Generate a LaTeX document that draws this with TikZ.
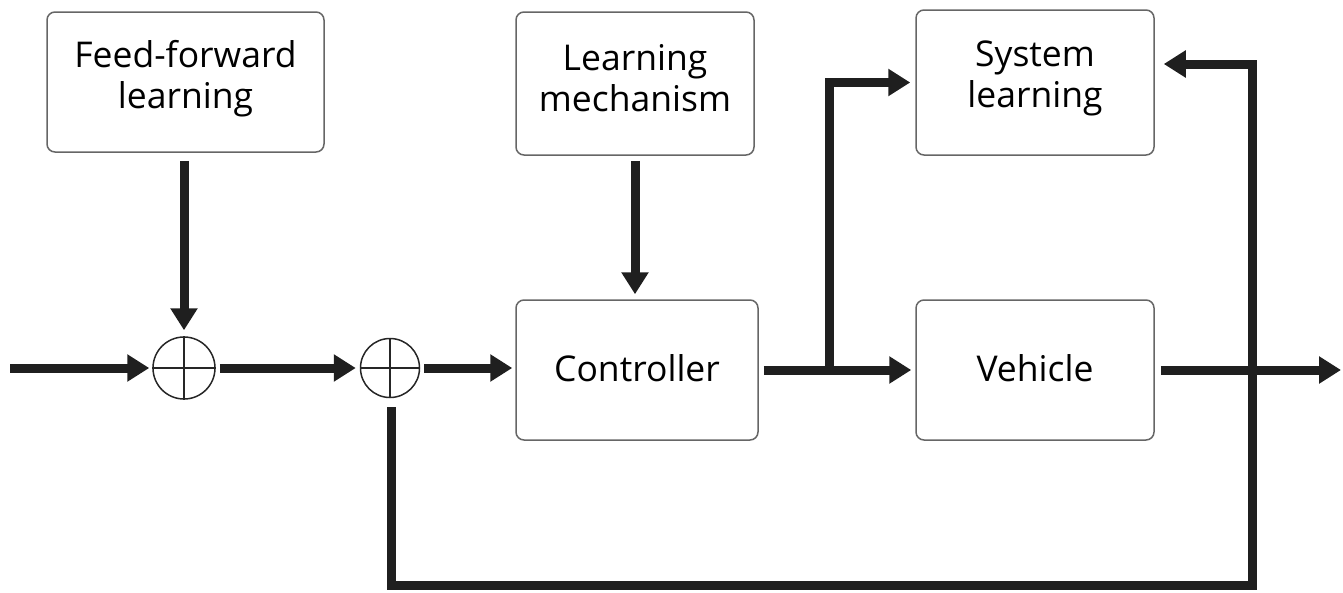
\documentclass[tikz,border=0pt]{standalone}
\usepackage{fontspec}
\setmainfont{Open Sans}
\usetikzlibrary{arrows.meta}
\begin{document}
\begin{tikzpicture}[x=1pt,y=-1pt,
  blk/.style={draw=black!60, line width=1.5pt, rounded corners=8pt, inner sep=0pt},
  txt/.style={align=center, font=\fontsize{35.5}{41}\selectfont, inner sep=0pt},
  sumnode/.style={draw=black!85, circle, line width=1.5pt, minimum size=62pt, inner sep=0pt},
  flow/.style={line width=9pt, draw=black!88, -{Triangle[length=22pt,width=26pt]}}]
\useasboundingbox (0,0) rectangle (1343,592);
\node[blk, minimum width=277pt, minimum height=140pt] (ff) at (185.5,82) {};
\node[txt] at (185.5,79) {Feed-forward\\learning};
\node[blk, minimum width=238pt, minimum height=143pt] (lm) at (635,83.5) {};
\node[txt] at (635,78) {Learning\\mechanism};
\node[blk, minimum width=238pt, minimum height=145pt] (sl) at (1035,82.5) {};
\node[txt] at (1035,78) {System\\learning};
\node[blk, minimum width=242pt, minimum height=140pt] (ctrl) at (637,370) {};
\node[txt] at (637,368) {Controller};
\node[blk, minimum width=238pt, minimum height=140pt] (veh) at (1035,370) {};
\node[txt] at (1035,368) {Vehicle};
\node[sumnode] (s1) at (184,368) {};
\node[sumnode, minimum size=59pt] (s2) at (390,368) {};
\foreach \s in {s1,s2}{
  \draw[line width=1.5pt, black!85] (\s.north) -- (\s.south) (\s.west) -- (\s.east);
}
\coordinate (in) at (10,368);
\draw[flow] (in) -- ([xshift=-3pt]s1.west);
\draw[flow] ([xshift=4pt]s1.east) -- ([xshift=-4pt]s2.west);
\draw[flow] ([xshift=4pt]s2.east) -- ([xshift=-3pt]ctrl.west |- s2.east);
\draw[flow] ([yshift=-8pt]ff.south -| s1.north) -- ([yshift=6pt]s1.north);
\draw[flow] ([yshift=-5pt]lm.south) -- ([yshift=5pt]lm.south |- ctrl.north);
\coordinate (br) at (829,370);
\draw[flow] ([xshift=5pt]ctrl.east) -- ([xshift=-4pt]veh.west);
\draw[flow] (br) |- ([xshift=-5pt]sl.west);
\coordinate (out) at (1341,370);
\draw[flow] ([xshift=6pt]veh.east) -- (out);
\coordinate (fb1) at (391,585);
\coordinate (fb2) at (1252,585);
\coordinate (fb3) at (1252,64);
\draw[flow] ([yshift=-9pt]s2.south -| fb1) -- (fb1) -- (fb2) -- (fb3) -- ([xshift=9pt]sl.east |- fb3);
\end{tikzpicture}
\end{document}
